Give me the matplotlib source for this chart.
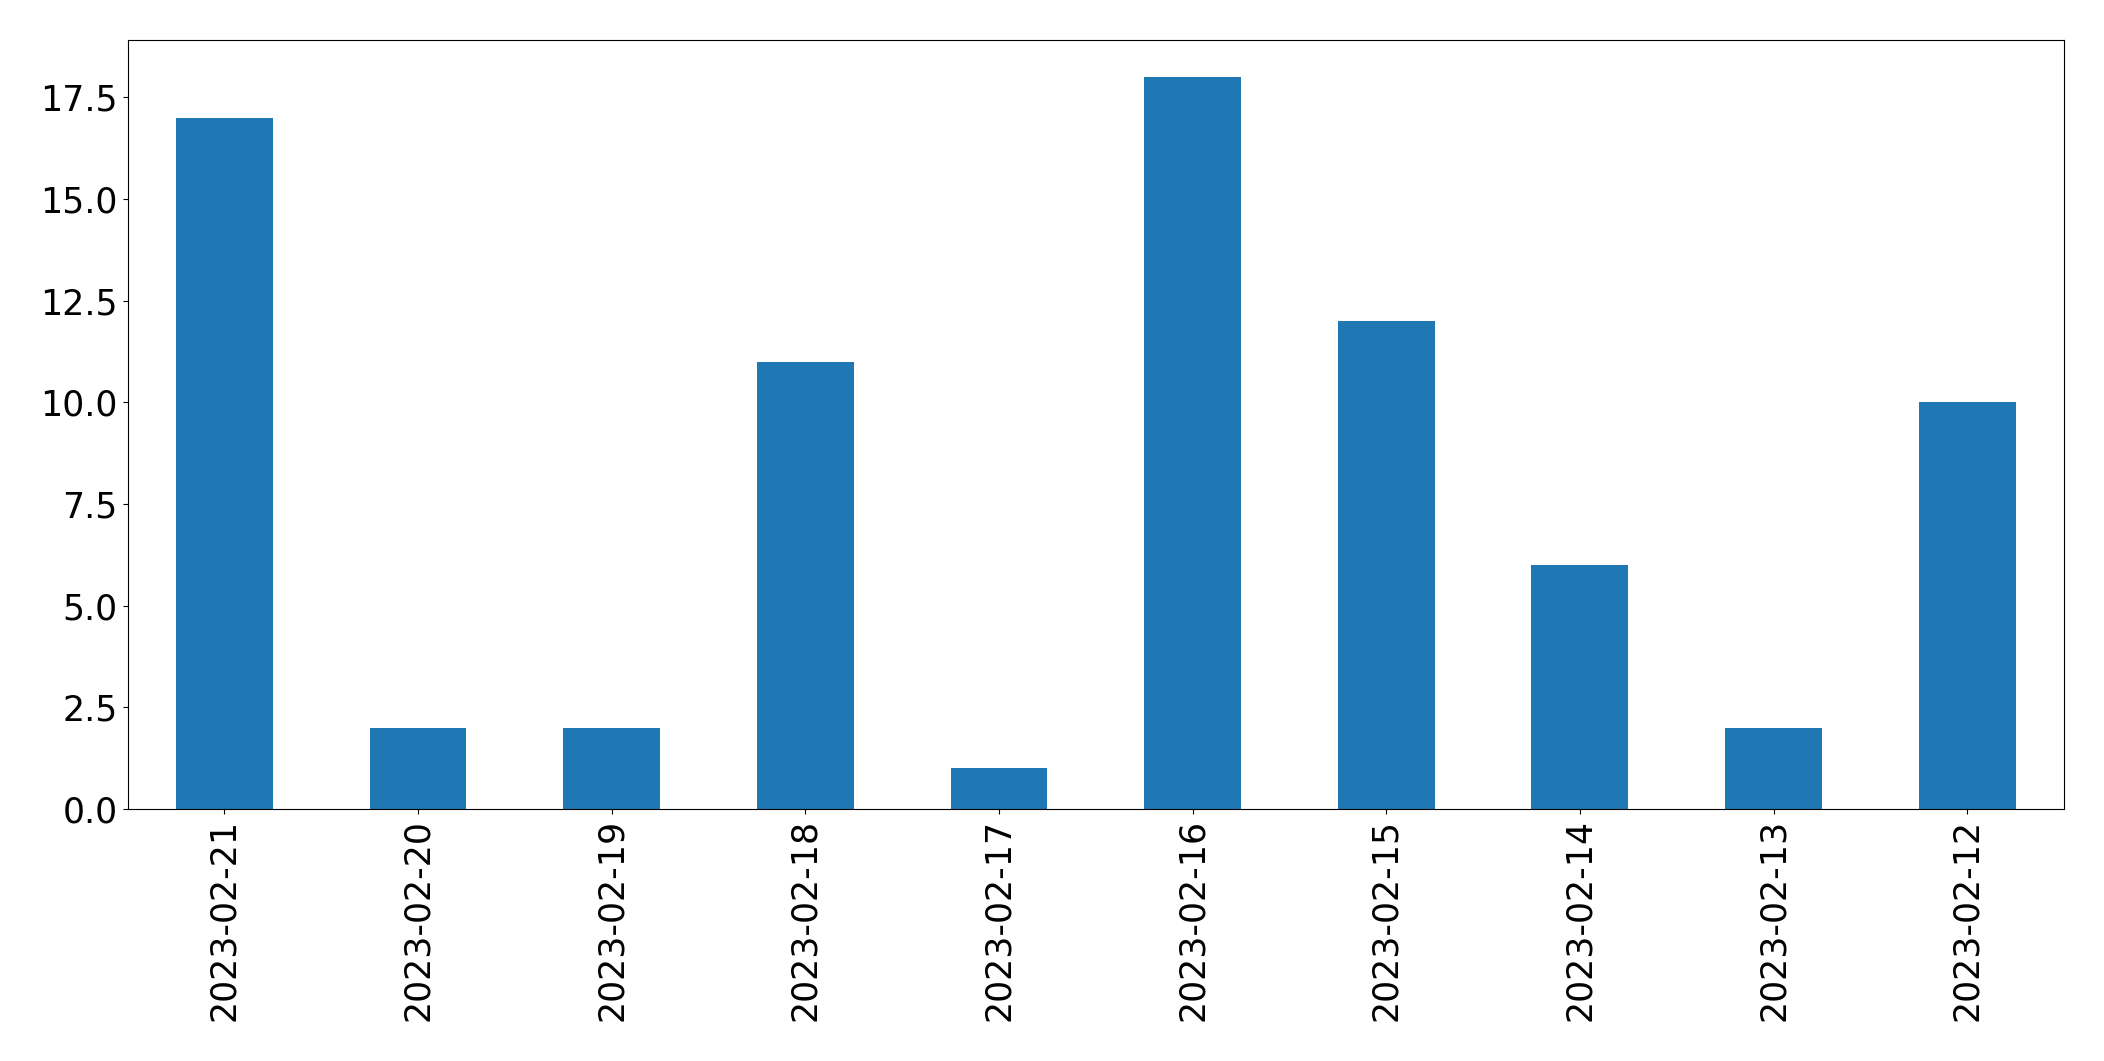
import matplotlib
matplotlib.use("Agg")
import matplotlib.pyplot as plt
import pandas as pd

dates = ["2023-02-21", "2023-02-20", "2023-02-19", "2023-02-18", "2023-02-17",
         "2023-02-16", "2023-02-15", "2023-02-14", "2023-02-13", "2023-02-12"]
counts = [17, 2, 2, 11, 1, 18, 12, 6, 2, 10]

s = pd.Series(counts, index=dates)

fig, ax = plt.subplots(figsize=(21.04, 10.61), dpi=100)
s.plot(kind="bar", ax=ax, color="#1f77b4", fontsize=25)
fig.subplots_adjust(left=0.0606, right=0.981, top=0.962, bottom=0.2375)

plt.savefig("out.png")
plt.close()
